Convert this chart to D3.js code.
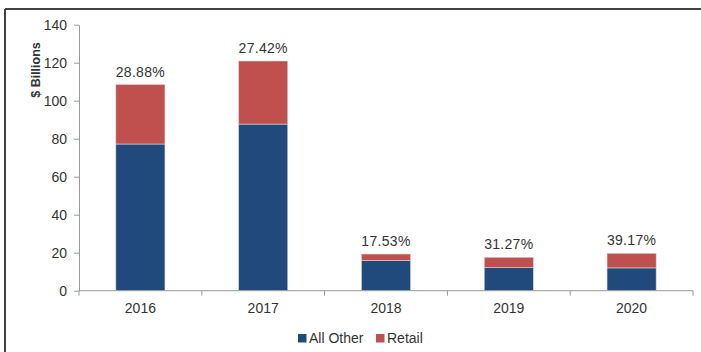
<!DOCTYPE html>
<html>
<head>
<meta charset="utf-8">
<script src="https://cdn.jsdelivr.net/npm/d3@7"></script>
<style>
  body { margin: 0; background: #fff; }
  text { font-family: "Liberation Sans", Arial, sans-serif; fill: #333; }
</style>
</head>
<body>
<div class="chart"></div>
<script>
// chart values
var years = ["2016", "2017", "2018", "2019", "2020"];
var allOther = [77.2, 87.7, 15.9, 12.1, 12.0];
var retail = [31.3, 33.2, 3.4, 5.5, 7.7];
var pctLabels = ["28.88%", "27.42%", "17.53%", "31.27%", "39.17%"];
var yTicks = [0, 20, 40, 60, 80, 100, 120, 140];
var seriesNames = ["All Other", "Retail"];
var colors = ["#214A7C", "#C0504D"];

var svgWidth = 701;
var svgHeight = 352;

var margin = { top: 24.7, right: 8, bottom: 61.3, left: 79 };
var width = svgWidth - margin.left - margin.right;
var height = svgHeight - margin.top - margin.bottom;

var svg = d3.select(".chart")
  .append("svg")
  .attr("width", svgWidth)
  .attr("height", svgHeight);

// frame (top and left edges)
svg.append("line")
  .attr("x1", 5).attr("x2", svgWidth).attr("y1", 9).attr("y2", 9)
  .attr("stroke", "#444").attr("stroke-width", 2);
svg.append("line")
  .attr("x1", 5).attr("x2", 5).attr("y1", 9).attr("y2", svgHeight)
  .attr("stroke", "#444").attr("stroke-width", 2);

var chartGroup = svg.append("g")
  .attr("transform", `translate(${margin.left}, ${margin.top})`);

var rows = years.map(function(y, i) {
  return { year: y, allOther: allOther[i], retail: retail[i], label: pctLabels[i] };
});

var stack = d3.stack().keys(["allOther", "retail"]);
var stacked = stack(rows);

var xBand = d3.scaleBand()
  .domain(years)
  .range([0, width])
  .padding(0);

var yLinearScale = d3.scaleLinear()
  .domain([0, 140])
  .range([height, 0]);

var barW = xBand.bandwidth() * 0.4;

// y axis
var leftAxis = d3.axisLeft(yLinearScale)
  .tickValues(yTicks)
  .tickSize(5)
  .tickSizeOuter(0)
  .tickPadding(7);

var yAxisG = chartGroup.append("g").call(leftAxis);
yAxisG.selectAll("text").style("font-size", "14px").attr("fill", "#333");
yAxisG.selectAll("line, path").attr("stroke", "#999");

// bars
chartGroup.selectAll("g.series")
  .data(stacked)
  .enter()
  .append("g")
  .attr("class", "series")
  .attr("fill", (d, i) => colors[i])
  .selectAll("rect")
  .data(d => d)
  .enter()
  .append("rect")
  .attr("x", d => xBand(d.data.year) + (xBand.bandwidth() - barW) / 2)
  .attr("y", d => yLinearScale(d[1]))
  .attr("width", barW)
  .attr("height", d => yLinearScale(d[0]) - yLinearScale(d[1]))
  .attr("stroke", "#d8d8e0")
  .attr("stroke-width", 0.6);

// x axis with ticks at category boundaries
var bounds = [0].concat(years.map(y => xBand(y) + xBand.bandwidth()));
var xAxisG = chartGroup.append("g")
  .attr("transform", `translate(0, ${height})`);
xAxisG.append("line")
  .attr("x1", 0).attr("x2", width)
  .attr("stroke", "#999");
xAxisG.selectAll("line.tick")
  .data(bounds)
  .enter()
  .append("line")
  .attr("class", "tick")
  .attr("x1", d => d).attr("x2", d => d)
  .attr("y1", 0).attr("y2", 5)
  .attr("stroke", "#999");
xAxisG.selectAll("text")
  .data(years)
  .enter()
  .append("text")
  .attr("x", d => xBand(d) + xBand.bandwidth() / 2)
  .attr("y", 22)
  .attr("text-anchor", "middle")
  .style("font-size", "14px")
  .text(d => d);

// percentage labels above bars
chartGroup.selectAll("text.pct")
  .data(rows)
  .enter()
  .append("text")
  .attr("class", "pct")
  .attr("x", d => xBand(d.year) + xBand.bandwidth() / 2)
  .attr("y", d => yLinearScale(d.allOther + d.retail) - 8)
  .attr("text-anchor", "middle")
  .style("font-size", "14px")
  .style("letter-spacing", "0.3px")
  .text(d => d.label);

// y axis title
svg.append("text")
  .attr("transform", "translate(40, 70) rotate(-90)")
  .attr("text-anchor", "middle")
  .style("font-size", "12.5px")
  .style("font-weight", "bold")
  .attr("fill", "#111")
  .text("$ Billions");

// legend
var legendX = [298, 376];
var legend = svg.selectAll("g.legend")
  .data(seriesNames)
  .enter()
  .append("g")
  .attr("class", "legend")
  .attr("transform", (d, i) => `translate(${legendX[i]}, 334)`);
legend.append("rect")
  .attr("width", 8.5).attr("height", 8.5)
  .attr("fill", (d, i) => colors[i]);
legend.append("text")
  .attr("x", 11).attr("y", 8.8)
  .style("font-size", "14px")
  .text(d => d);
</script>
</body>
</html>
